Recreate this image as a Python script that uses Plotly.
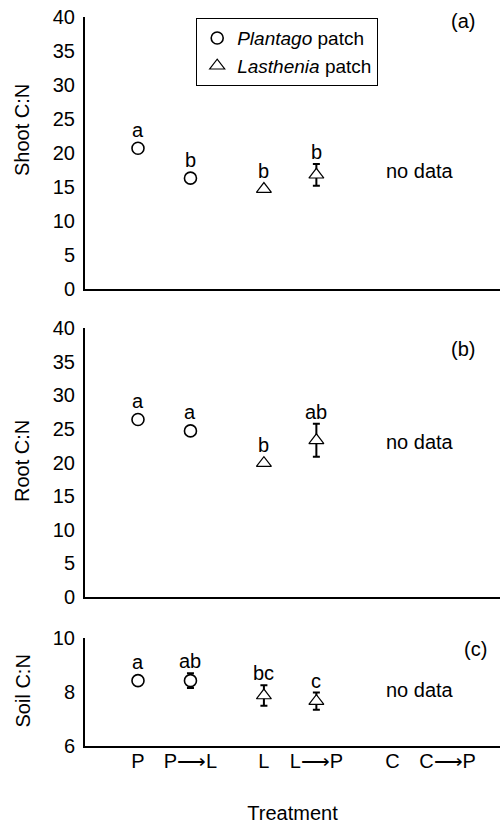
import plotly.graph_objects as go

# ---------------- data ----------------
ARROW = "\u27f6"
categories = ["P", f"P{ARROW}L", "L", f"L{ARROW}P", "C", f"C{ARROW}P"]
plantago_cats = ["P", f"P{ARROW}L"]
lasthenia_cats = ["L", f"L{ARROW}P"]

shoot_plantago = [20.7, 16.3]
shoot_plantago_err = [0.0, 0.0]
shoot_lasthenia = [14.7, 16.8]
shoot_lasthenia_err = [0.0, 1.6]

root_plantago = [26.4, 24.7]
root_plantago_err = [0.0, 0.0]
root_lasthenia = [19.9, 23.3]
root_lasthenia_err = [0.0, 2.45]

soil_plantago = [8.42, 8.42]
soil_plantago_err = [0.0, 0.27]
soil_lasthenia = [7.87, 7.66]
soil_lasthenia_err = [0.38, 0.32]

shoot_letters = ["a", "b", "b", "b"]
root_letters = ["a", "a", "b", "ab"]
soil_letters = ["a", "ab", "bc", "c"]

panel_tags = ["(a)", "(b)", "(c)"]
y_titles = ["Shoot C:N", "Root C:N", "Soil C:N"]
no_data_y = [17.4, 23.0, 8.07]

# ---------------- layout constants ----------------
FONT = "Liberation Sans, Arial, Helvetica, sans-serif"
FS = 20
W, H = 500, 824
ML, MR, MT, MB = 85, 0, 17, 78
# category positions along the x axis (paired spacing as in the original)
x_pos = [0, 1, 2.4, 3.4, 4.85, 5.9]
xmap = dict(zip(categories, x_pos))
x_range = [-1.01, 6.9]

plot_h = H - MT - MB
def px_to_paper(p):
    return (H - MB - p) / plot_h

domains = [
    [px_to_paper(289), 1.0],
    [px_to_paper(597), px_to_paper(328)],
    [0.0, px_to_paper(638)],
]
y_ranges = [[0, 40], [0, 40], [6, 10]]
y_ticks = [list(range(0, 41, 5)), list(range(0, 41, 5)), [6, 8, 10]]

fig = go.Figure()

panels = [
    (shoot_plantago, shoot_plantago_err, shoot_lasthenia, shoot_lasthenia_err, shoot_letters),
    (root_plantago, root_plantago_err, root_lasthenia, root_lasthenia_err, root_letters),
    (soil_plantago, soil_plantago_err, soil_lasthenia, soil_lasthenia_err, soil_letters),
]

annotations = []
for i, (pv, pe, lv, le, letters) in enumerate(panels):
    xa = "x" if i == 0 else f"x{i+1}"
    ya = "y" if i == 0 else f"y{i+1}"
    fig.add_trace(go.Scatter(
        x=[xmap[c] for c in plantago_cats], y=pv, mode="markers",
        name="<i>Plantago</i> patch", showlegend=(i == 0),
        marker=dict(symbol="circle", size=12, color="white",
                    line=dict(color="black", width=1.6)),
        error_y=dict(type="data", array=pe, visible=True, color="black",
                     thickness=2, width=3.5),
        xaxis=xa, yaxis=ya,
    ))
    fig.add_trace(go.Scatter(
        x=[xmap[c] for c in lasthenia_cats], y=lv, mode="markers",
        name="<i>Lasthenia</i> patch", showlegend=(i == 0),
        marker=dict(symbol="triangle-up", size=13, color="white",
                    line=dict(color="black", width=1.2)),
        error_y=dict(type="data", array=le, visible=True, color="black",
                     thickness=2, width=3.5),
        xaxis=xa, yaxis=ya,
    ))
    # significance letters
    dom = domains[i]
    ppu = (dom[1] - dom[0]) * plot_h / (y_ranges[i][1] - y_ranges[i][0])
    vals = pv + lv
    errs = pe + le
    cats = plantago_cats + lasthenia_cats
    for c, v, e, t in zip(cats, vals, errs, letters):
        e_px = e * ppu
        has_bar = e_px > 6.5
        annotations.append(dict(
            x=xmap[c], y=v + (e if has_bar else 0), xref=xa, yref=ya,
            text=t, showarrow=False, yanchor="middle",
            yshift=12 if has_bar else 18.5,
            font=dict(family=FONT, size=FS, color="black"),
        ))
    # "no data"
    annotations.append(dict(
        x=(xmap["C"] + xmap[f"C{ARROW}P"]) / 2, y=no_data_y[i], xref=xa, yref=ya,
        text="no data", showarrow=False,
        font=dict(family=FONT, size=FS, color="black"),
    ))

# panel tags
tag_pos = [(463, 0.985), (463, 0.922), (475, 0.898)]
for i, (tx, ty) in enumerate(tag_pos):
    ya = "y" if i == 0 else f"y{i+1}"
    annotations.append(dict(
        x=(tx - ML) / (W - ML - MR), y=ty, xref="paper", yref=f"{ya} domain",
        text=panel_tags[i], showarrow=False, xanchor="center", yanchor="middle",
        font=dict(family=FONT, size=FS, color="black"),
    ))

# y axis titles
title_px = [130, 461, 691.5]
for i, t in enumerate(y_titles):
    annotations.append(dict(
        x=(22 - ML) / (W - ML - MR), y=px_to_paper(title_px[i]),
        xref="paper", yref="paper", text=t, showarrow=False, textangle=-90,
        xanchor="center", yanchor="middle",
        font=dict(family=FONT, size=FS, color="black"),
    ))

axis_common = dict(showline=True, linecolor="black", linewidth=2,
                   showgrid=False, zeroline=False, mirror=False)

layout = dict(
    width=W, height=H,
    margin=dict(l=ML, r=MR, t=MT, b=MB),
    paper_bgcolor="white", plot_bgcolor="white",
    font=dict(family=FONT, size=FS, color="black"),
    annotations=annotations,
    showlegend=True,
    legend=dict(x=(196 - ML) / (W - ML - MR), y=px_to_paper(18),
                xanchor="left", yanchor="top",
                bordercolor="black", borderwidth=1.2, bgcolor="white",
                font=dict(family=FONT, size=19, color="black"),
                tracegroupgap=0, itemwidth=30),
)
for i in range(3):
    xk = "xaxis" if i == 0 else f"xaxis{i+1}"
    yk = "yaxis" if i == 0 else f"yaxis{i+1}"
    xa_anchor = "y" if i == 0 else f"y{i+1}"
    ya_anchor = "x" if i == 0 else f"x{i+1}"
    xaxis = dict(axis_common, range=x_range, domain=[0, 1], anchor=xa_anchor,
                 tickmode="array", tickvals=x_pos,
                 ticktext=categories if i == 2 else [""] * len(categories),
                 showticklabels=(i == 2), ticks="", ticklabelstandoff=-4)
    if i == 2:
        xaxis["title"] = dict(text="Treatment", standoff=36,
                              font=dict(family=FONT, size=FS, color="black"))
    layout[xk] = xaxis
    layout[yk] = dict(axis_common, range=y_ranges[i], domain=domains[i],
                      anchor=ya_anchor, tickmode="array", tickvals=y_ticks[i],
                      ticks="outside", ticklen=4, tickcolor="white",
                      tickfont=dict(family=FONT, size=FS, color="black"))

fig.update_layout(**layout)
fig.write_html("out.html")
